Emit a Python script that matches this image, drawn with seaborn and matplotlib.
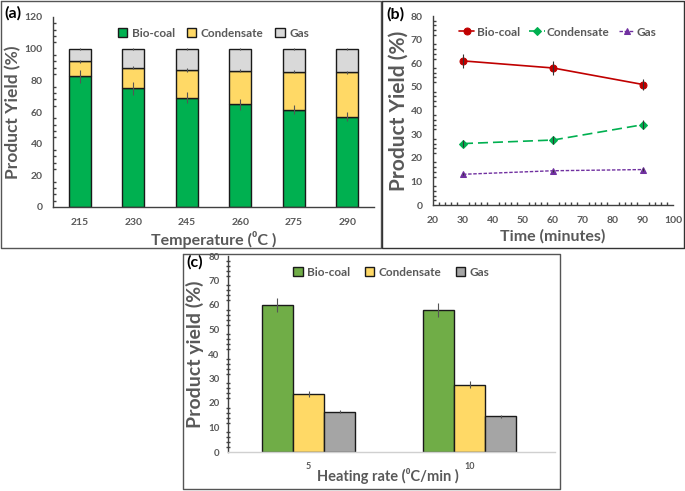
import numpy as np
import pandas as pd
import matplotlib
matplotlib.use("Agg")
import matplotlib.pyplot as plt
import seaborn as sns
from matplotlib.lines import Line2D
from matplotlib.ticker import MultipleLocator

sns.set_theme(style="white")
plt.rcParams['font.family'] = ['Lato', 'DejaVu Sans']

# ---------------- data ----------------
temps = ["215", "230", "245", "260", "275", "290"]
a_biocoal = [82.5, 75, 69, 65, 61.5, 57]
a_condensate = [9.5, 13, 17.5, 21, 24, 28]
a_gas = [8, 12, 13.5, 14, 14.5, 15]
a_biocoal_err = [4, 4, 3.5, 3.5, 3, 3]
a_condensate_err = [1, 1, 1, 1, 1, 1.2]
a_gas_err = [0.6, 0.6, 0.6, 0.6, 0.6, 0.6]

times = [30, 60, 90]
b_biocoal = [61, 58, 51]
b_condensate = [26, 27.5, 34]
b_gas = [13, 14.5, 15]
b_biocoal_err = [3, 3, 2.5]
b_condensate_err = [1.5, 1.5, 2]
b_gas_err = [0.5, 0.5, 0.5]

rates = ["5", "10"]
c_biocoal = [60, 58]
c_condensate = [23.5, 27.5]
c_gas = [16.5, 14.5]
c_biocoal_err = [3, 3]
c_condensate_err = [1.2, 1.3]
c_gas_err = [0.6, 0.5]

GRAY = "#595959"
W, H = 685, 491
fig = plt.figure(figsize=(W / 100, H / 100), dpi=100)

def fx(px):
    return px / W

def fy(py):
    return 1 - py / H

def add_axes(l, t, r, b):
    return fig.add_axes([fx(l), fy(b), fx(r) - fx(l), fy(t) - fy(b)])

def style_ax(ax, fs=7.5):
    for s in ["top", "right"]:
        ax.spines[s].set_visible(False)
    for s in ["left", "bottom"]:
        ax.spines[s].set_color("#404040")
        ax.spines[s].set_linewidth(1.0)
    ax.tick_params(axis="both", which="major", labelsize=fs, colors="#404040",
                   labelcolor=GRAY, length=4, width=0.8, direction="out")
    for lab in ax.get_xticklabels() + ax.get_yticklabels():
        lab.set_fontweight("bold")

def frame(l, t, r, b, color="#555555", lw=1.0):
    xs = [fx(l), fx(r), fx(r), fx(l), fx(l)]
    ys = [fy(t), fy(t), fy(b), fy(b), fy(t)]
    fig.add_artist(Line2D(xs, ys, color=color, lw=lw, transform=fig.transFigure))

frame(1, 1, 381, 248)
frame(382, 1, 684, 248, color="#333333")
frame(183, 254, 560, 489)

def style_legend(leg):
    for t in leg.get_texts():
        t.set_color(GRAY)
        t.set_fontweight("bold")

# ---------------- panel (a) ----------------
ax = add_axes(53, 17, 374, 207)
dfa = pd.DataFrame({"T": temps, "Bio-coal": a_biocoal,
                    "Condensate": a_condensate, "Gas": a_gas})
bot1 = np.array(a_biocoal)
bot2 = bot1 + np.array(a_condensate)
sns.barplot(data=dfa, x="T", y="Bio-coal", color="#00B050", edgecolor="#1a1a1a",
            linewidth=1.0, width=0.41, ax=ax, label="Bio-coal", saturation=1)
ax.bar(range(len(temps)), a_condensate, bottom=bot1, width=0.41, color="#FFD966",
       edgecolor="#1a1a1a", linewidth=1.0, label="Condensate")
ax.bar(range(len(temps)), a_gas, bottom=bot2, width=0.41, color="#D9D9D9",
       edgecolor="#1a1a1a", linewidth=1.0, label="Gas")
xs = np.arange(len(temps))
ax.errorbar(xs, bot1, yerr=a_biocoal_err, fmt="none", ecolor="#555555", elinewidth=0.8, capsize=0)
ax.errorbar(xs, bot2, yerr=a_condensate_err, fmt="none", ecolor="#555555", elinewidth=0.8, capsize=0)
ax.errorbar(xs, bot2 + np.array(a_gas), yerr=a_gas_err, fmt="none", ecolor="#555555", elinewidth=0.8, capsize=0)
ax.set_xlim(-0.5, 5.5)
ax.set_ylim(0, 120)
ax.yaxis.set_major_locator(MultipleLocator(20))
ax.yaxis.set_minor_locator(MultipleLocator(4))
ax.set_xticks(xs, minor=False)
ax.set_xticks(np.arange(-0.5, 6, 1), minor=True)
style_ax(ax)
ax.tick_params(axis="x", which="major", length=3, direction="in", pad=8)
ax.tick_params(axis="x", which="minor", length=3, direction="in", color="#404040")
ax.tick_params(axis="y", which="minor", length=2.5, direction="in", color="#404040", left=True)
ax.set_xlabel("Temperature (⁰C )", fontsize=11.5, fontweight="bold", color=GRAY, labelpad=3)
ax.set_ylabel("Product Yield (%)", fontsize=12.5, fontweight="bold", color=GRAY, labelpad=2)
leg = ax.legend(loc="upper center", ncol=3, frameon=False, fontsize=8.5,
                handlelength=0.8, handleheight=0.8, columnspacing=1.0, handletextpad=0.4,
                bbox_to_anchor=(0.5, 1.0))
style_legend(leg)
fig.text(fx(4), fy(13), "(a)", fontsize=11.5, fontweight="bold", color="black", va="center")

# ---------------- panel (b) ----------------
ax = add_axes(433, 16, 673, 205)
dfb = pd.DataFrame({"t": times * 3,
                    "y": b_biocoal + b_condensate + b_gas,
                    "s": ["Bio-coal"] * 3 + ["Condensate"] * 3 + ["Gas"] * 3})
specs = [("Bio-coal", b_biocoal, b_biocoal_err, "#C00000", "o", (None, None), 1.2, 5),
         ("Condensate", b_condensate, b_condensate_err, "#00B050", "D", (6, 3), 1.2, 4),
         ("Gas", b_gas, b_gas_err, "#7030A0", "^", (2.5, 1.2), 1.0, 4)]
for name, vals, err, col, mk, dash, lw, ms in specs:
    sub = dfb[dfb["s"] == name]
    kw = {} if dash[0] is None else {"dashes": dash}
    sns.lineplot(data=sub, x="t", y="y", color=col, marker=mk, markersize=ms,
                 markeredgecolor=col, linewidth=lw, ax=ax, label=name, **kw)
    ax.errorbar(times, vals, yerr=err, fmt="none", ecolor="#333333", elinewidth=0.8, capsize=0)
ax.set_xlim(20, 100)
ax.set_ylim(0, 80)
ax.xaxis.set_major_locator(MultipleLocator(10))
ax.xaxis.set_minor_locator(MultipleLocator(2))
ax.yaxis.set_major_locator(MultipleLocator(10))
ax.yaxis.set_minor_locator(MultipleLocator(2))
style_ax(ax)
ax.tick_params(axis="both", which="minor", length=2.5, direction="in", color="#404040",
               bottom=True, left=True)
ax.tick_params(axis="x", which="major", pad=4)
ax.set_xlabel("Time (minutes)", fontsize=11.5, fontweight="bold", color=GRAY, labelpad=3)
ax.set_ylabel("Product Yield (%)", fontsize=15, fontweight="bold", color=GRAY, labelpad=1)
leg = ax.legend(loc="upper center", ncol=3, frameon=False, fontsize=8.5,
                handlelength=1.3, columnspacing=0.8, handletextpad=0.2,
                bbox_to_anchor=(0.52, 1.0))
style_legend(leg)
fig.text(fx(386), fy(14), "(b)", fontsize=11.5, fontweight="bold", color="black", va="center")

# ---------------- panel (c) ----------------
ax = add_axes(228, 256, 555, 452)
dfc = pd.DataFrame({"rate": rates * 3,
                    "y": c_biocoal + c_condensate + c_gas,
                    "s": ["Bio-coal"] * 2 + ["Condensate"] * 2 + ["Gas"] * 2})
pal = {"Bio-coal": "#70AD47", "Condensate": "#FFD966", "Gas": "#A5A5A5"}
sns.barplot(data=dfc, x="rate", y="y", hue="s", palette=pal, edgecolor="#1a1a1a",
            linewidth=1.0, width=0.58, ax=ax, saturation=1, gap=0)
bw = 0.58 / 3
for i, (vals, err) in enumerate([(c_biocoal, c_biocoal_err),
                                  (c_condensate, c_condensate_err),
                                  (c_gas, c_gas_err)]):
    ax.errorbar(np.arange(2) + (i - 1) * bw, vals, yerr=err, fmt="none",
                ecolor="#555555", elinewidth=0.8, capsize=0)
ax.set_xlim(-0.5, 1.53)
ax.set_ylim(0, 80)
ax.yaxis.set_major_locator(MultipleLocator(10))
ax.yaxis.set_minor_locator(MultipleLocator(2))
style_ax(ax, fs=7)
ax.spines["bottom"].set_color("#D0D0D0")
ax.tick_params(axis="x", which="major", length=0, pad=7, labelsize=6.5)
ax.tick_params(axis="y", which="minor", length=2.5, direction="inout", color="#404040", left=True)
ax.tick_params(axis="y", which="major", direction="inout", length=5)
ax.set_xlabel("Heating rate (⁰C/min )", fontsize=10.5, fontweight="bold", color=GRAY, labelpad=-3)
ax.xaxis.set_label_coords(0.49, -0.08)
ax.set_ylabel("Product yield (%)", fontsize=14, fontweight="bold", color=GRAY, labelpad=3)
leg = ax.legend(loc="upper center", ncol=3, frameon=False, fontsize=8.5,
                handlelength=0.8, handleheight=0.8, columnspacing=1.2, handletextpad=0.4,
                bbox_to_anchor=(0.5, 1.0), title=None)
style_legend(leg)
fig.text(fx(186), fy(262), "(c)", fontsize=11.5, fontweight="bold", color="black", va="center")

fig.savefig("out.png", dpi=100)
